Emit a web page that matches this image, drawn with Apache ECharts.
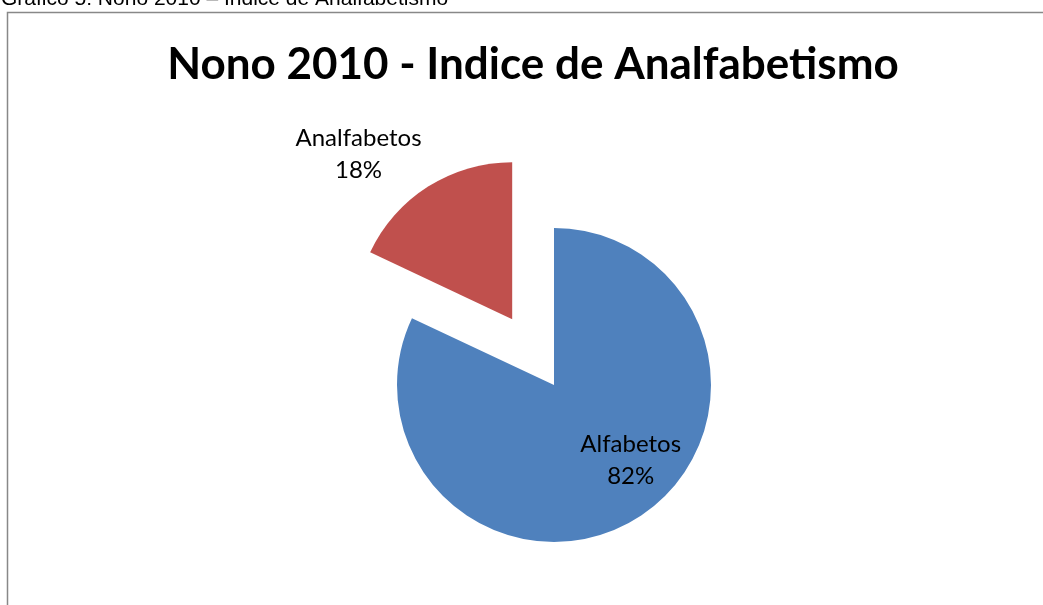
<!DOCTYPE html>
<html>
<head>
<meta charset="utf-8">
<script src="https://cdn.jsdelivr.net/npm/echarts@6/dist/echarts.min.js"></script>
<style>
  html, body { margin: 0; padding: 0; background: #fff; }
  #chart { width: 1043px; height: 605px; }
</style>
</head>
<body>
<div id="chart"></div>
<script>
var categories = ['Alfabetos', 'Analfabetos'];
var values = [82, 18];
var colors = ['#4F81BD', '#C0504D'];
var labelShift = [[33, 6], [-110, -96]];

var chart = echarts.init(document.getElementById('chart'));

var pieData = categories.map(function (name, i) {
  return {
    name: name,
    value: values[i],
    selected: i === 1, // Analfabetos separada
    itemStyle: { color: colors[i] }
  };
});

var option = {
  animation: false,
  title: {
    text: 'Nono 2010 - Indice de Analfabetismo',
    left: 528,
    top: 38,
    textAlign: 'center',
    textStyle: {
      fontFamily: 'Lato',
      fontWeight: 'bold',
      fontSize: 44,
      color: '#000'
    }
  },
  graphic: [
    {
      type: 'rect',
      shape: { x: 7.5, y: 12.5, width: 1100, height: 700 },
      style: { fill: 'none', stroke: '#888', lineWidth: 1.5 },
      silent: true
    },
    {
      type: 'text',
      x: 1,
      y: -1,
      style: {
        text: 'Gráfico 5: Nono 2010 – Índice de Analfabetismo',
        font: '21px "Liberation Sans"',
        fill: '#000',
        verticalAlign: 'middle'
      },
      silent: true
    }
  ],
  series: [{
    type: 'pie',
    center: [554, 385],
    radius: [0, 157],
    startAngle: 90,
    clockwise: true,
    selectedMode: 'single',
    selectedOffset: 78,
    silent: true,
    label: {
      position: 'inside',
      formatter: '{b}\n{c}%',
      fontFamily: 'Lato',
      fontSize: 24,
      lineHeight: 32,
      color: '#000'
    },
    labelLine: { show: false },
    labelLayout: function (params) {
      var s = labelShift[params.dataIndex];
      return { dx: s[0], dy: s[1] };
    },
    emphasis: { disabled: true },
    data: pieData
  }]
};

chart.setOption(option);
window.addEventListener('resize', function () {
  chart.resize();
});
</script>
</body>
</html>
